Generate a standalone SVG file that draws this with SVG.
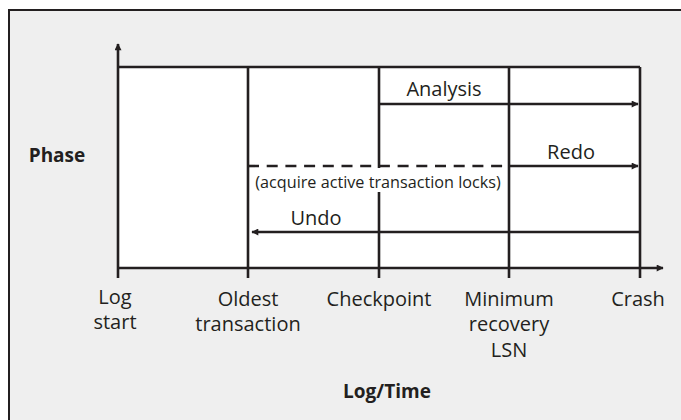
<svg xmlns="http://www.w3.org/2000/svg" width="681" height="420" viewBox="0 0 681 420">
  <defs>
    <marker id="ah" viewBox="0 0 10 10" refX="9" refY="5" markerWidth="9" markerHeight="7" markerUnits="userSpaceOnUse" orient="auto">
      <path d="M0,0 L10,5 L0,10 Z" fill="#231f20"/>
    </marker>
    <style>
      .ln { stroke: #231f20; stroke-width: 2.6; fill: none; }
      .t { font-family: "Open Sans", "Noto Sans", sans-serif; font-size: 20px; fill: #231f20; text-anchor: middle; }
      .b { font-weight: bold; font-size: 19px; }
      .s { font-size: 16.2px; }
    </style>
  </defs>

  <!-- background panel -->
  <rect x="9" y="10" width="700" height="440" fill="#efefef" stroke="#231f20" stroke-width="2"/>

  <!-- plot area -->
  <rect x="118" y="67" width="522" height="201" fill="#ffffff"/>

  <g id="grid">
    <line class="ln" x1="118" y1="67" x2="640" y2="67"/>
    <line class="ln" x1="248" y1="67" x2="248" y2="278"/>
    <line class="ln" x1="379" y1="67" x2="379" y2="278"/>
    <line class="ln" x1="509" y1="67" x2="509" y2="278"/>
    <line class="ln" x1="640" y1="67" x2="640" y2="278"/>
  </g>

  <g id="axes">
    <line class="ln" x1="118" y1="278" x2="118" y2="44" marker-end="url(#ah)"/>
    <line class="ln" x1="118" y1="268" x2="663" y2="268" marker-end="url(#ah)"/>
  </g>

  <g id="connectors">
    <line class="ln" x1="379" y1="104" x2="638" y2="104" marker-end="url(#ah)"/>
    <line class="ln" x1="248" y1="166" x2="509" y2="166" stroke-dasharray="11,7.7"/>
    <line class="ln" x1="509" y1="166" x2="638" y2="166" marker-end="url(#ah)"/>
    <line class="ln" x1="640" y1="232" x2="252" y2="232" marker-end="url(#ah)"/>
  </g>

  <g id="phase-labels">
    <text class="t" x="444" y="96">Analysis</text>
    <text class="t" x="571" y="159">Redo</text>
    <rect x="376" y="168" width="6" height="24" fill="#ffffff"/>
    <text class="t s" x="378" y="188">(acquire active transaction locks)</text>
    <text class="t" x="316" y="225">Undo</text>
  </g>

  <g id="tick-labels">
    <text class="t" x="115" y="304">Log</text>
    <text class="t" x="115" y="329">start</text>
    <text class="t" x="248" y="306">Oldest</text>
    <text class="t" x="248" y="331">transaction</text>
    <text class="t" x="379" y="306">Checkpoint</text>
    <text class="t" x="509" y="306">Minimum</text>
    <text class="t" x="509" y="331">recovery</text>
    <text class="t" x="509" y="357">LSN</text>
    <text class="t" x="638" y="306">Crash</text>
  </g>

  <g id="axis-titles">
    <text class="t b" x="57" y="162">Phase</text>
    <text class="t b" x="387" y="398">Log/Time</text>
  </g>
</svg>
